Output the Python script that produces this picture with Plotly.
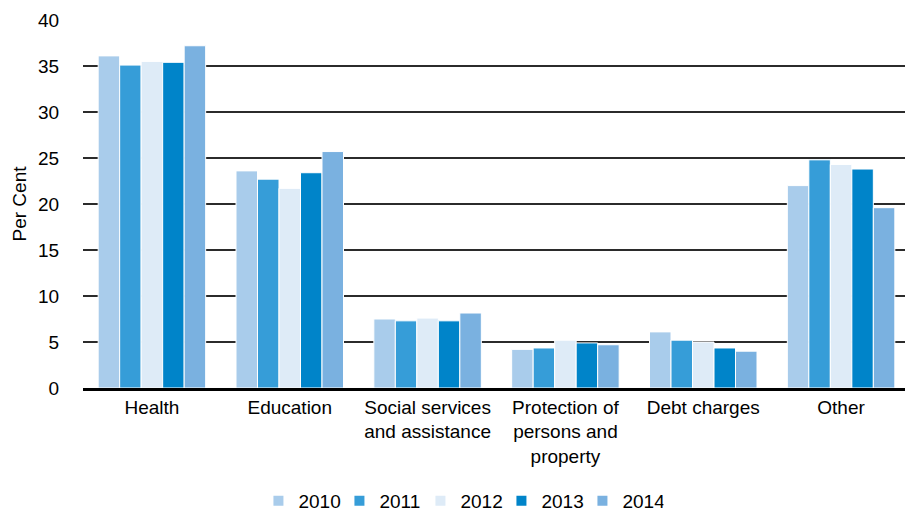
import plotly.graph_objects as go

categories = ["Health", "Education", "Social services<br>and assistance",
              "Protection of<br>persons and<br>property", "Debt charges", "Other"]
years = ["2010", "2011", "2012", "2013", "2014"]
values = {
    "2010": [36.1, 23.6, 7.5, 4.2, 6.1, 22.0],
    "2011": [35.1, 22.7, 7.3, 4.35, 5.2, 24.8],
    "2012": [35.5, 21.7, 7.6, 5.2, 5.0, 24.3],
    "2013": [35.4, 23.4, 7.3, 4.9, 4.35, 23.8],
    "2014": [37.2, 25.7, 8.15, 4.7, 4.0, 19.6],
}
colors = ["#A9CCEB", "#369DD8", "#DEEBF7", "#0084C9", "#7AB1E0"]
yticks = [0, 5, 10, 15, 20, 25, 30, 35, 40]

fig = go.Figure()
for y, c in zip(years, colors):
    fig.add_trace(go.Bar(x=categories, y=values[y], name=y,
                         marker=dict(color=c, line=dict(color="white", width=1))))

font = "Liberation Sans, Arial, sans-serif"
fig.update_layout(
    width=905, height=505,
    margin=dict(l=75, r=3, t=12, b=125, autoexpand=False),
    paper_bgcolor="white", plot_bgcolor="white",
    barmode="group", bargap=0.22, bargroupgap=0,
    font=dict(family=font, size=19, color="black"),
    showlegend=True,
    legend=dict(orientation="h", x=0.457, xanchor="center", y=-0.255, yanchor="top",
                font=dict(size=19), itemwidth=30, tracegroupgap=0,
                entrywidth=36, entrywidthmode="pixels",
                itemsizing="constant"),
    xaxis=dict(showline=True, linecolor="black", linewidth=2.5, automargin=False,
               ticks="", tickfont=dict(size=19), showgrid=False),
    yaxis=dict(range=[0, 40], tickvals=yticks, showgrid=True, automargin=False,
               gridcolor="#2b2b2b", gridwidth=1.5, zeroline=False,
               ticks="outside", ticklen=19, tickcolor="rgba(0,0,0,0)",
               tickfont=dict(size=19),
               title=dict(text="Per Cent", font=dict(size=19), standoff=6)),
)
fig.write_html("out.html")
